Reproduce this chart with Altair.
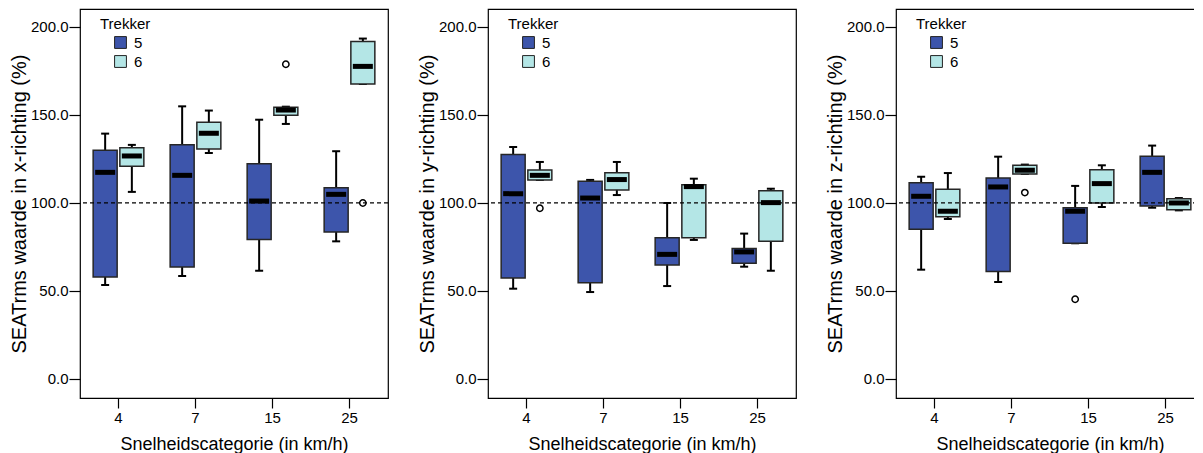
import altair as alt
import pandas as pd

speeds = ["4", "7", "15", "25"]
trekkers = ["5", "6"]
directions = ["x", "y", "z"]

# x-richting
x5_low = [53.4, 58.5, 61.5, 78.2]
x5_q1 = [58.0, 63.6, 79.2, 83.5]
x5_med = [117.4, 115.7, 101.1, 104.9]
x5_q3 = [129.9, 133.1, 122.3, 108.7]
x5_high = [139.4, 154.9, 147.3, 129.4]
x6_low = [106.3, 128.4, 144.9, 167.6]
x6_q1 = [120.8, 130.7, 149.8, 167.6]
x6_med = [126.7, 139.6, 152.8, 177.6]
x6_q3 = [131.4, 145.8, 154.4, 191.8]
x6_high = [133.0, 152.5, 154.7, 193.4]

# y-richting
y5_low = [51.3, 49.4, 52.8, 63.8]
y5_q1 = [57.4, 54.7, 64.8, 65.7]
y5_med = [105.3, 102.8, 70.8, 72.2]
y5_q3 = [127.5, 112.3, 80.3, 74.2]
y5_high = [131.8, 113.1, 100.0, 82.6]
y6_low = [113.1, 104.5, 79.0, 61.5]
y6_q1 = [113.1, 107.4, 80.3, 78.2]
y6_med = [115.7, 113.3, 109.3, 100.2]
y6_q3 = [118.8, 117.2, 110.4, 107.0]
y6_high = [123.3, 123.3, 113.8, 108.1]

# z-richting
z5_low = [62.1, 55.1, 77.1, 97.3]
z5_q1 = [85.0, 61.0, 77.1, 98.3]
z5_med = [103.8, 109.1, 95.3, 117.4]
z5_q3 = [111.5, 114.2, 97.3, 126.5]
z5_high = [114.9, 126.3, 109.7, 132.6]
z6_low = [90.9, 116.5, 97.7, 95.8]
z6_q1 = [92.2, 116.5, 100.0, 96.2]
z6_med = [95.3, 118.6, 111.0, 100.0]
z6_q3 = [107.8, 121.4, 118.9, 102.4]
z6_high = [117.0, 121.8, 121.4, 102.8]

# outliers
out_dir = ["x", "x", "y", "z", "z"]
out_speed = ["15", "25", "4", "7", "15"]
out_trekker = ["6", "6", "6", "6", "5"]
out_value = [178.8, 100.0, 97.0, 105.9, 45.3]

y_ticks = [0, 50, 100, 150, 200]
reference_value = 100

stats = {
    ("x", "5"): (x5_low, x5_q1, x5_med, x5_q3, x5_high),
    ("x", "6"): (x6_low, x6_q1, x6_med, x6_q3, x6_high),
    ("y", "5"): (y5_low, y5_q1, y5_med, y5_q3, y5_high),
    ("y", "6"): (y6_low, y6_q1, y6_med, y6_q3, y6_high),
    ("z", "5"): (z5_low, z5_q1, z5_med, z5_q3, z5_high),
    ("z", "6"): (z6_low, z6_q1, z6_med, z6_q3, z6_high),
}

rows = []
for (d, t), (lo, q1, md, q3, hi) in stats.items():
    for i, s in enumerate(speeds):
        rows.append(dict(direction=d, trekker=t, speed=s, low=lo[i], q1=q1[i],
                         med=md[i], q3=q3[i], high=hi[i]))
box_df = pd.DataFrame(rows)
out_df = pd.DataFrame(dict(direction=out_dir, speed=out_speed,
                           trekker=out_trekker, value=out_value))

BLUE = "#3D55AB"
CYAN = "#B4E6E6"
FONT = "Liberation Sans"


def panel(d):
    bdf = box_df[box_df.direction == d]
    odf = out_df[out_df.direction == d]
    yscale = alt.Scale(domain=[-10.8, 210.2], nice=False, zero=False)
    x = alt.X("speed:N", sort=speeds,
              scale=alt.Scale(domain=speeds, paddingInner=0, paddingOuter=0),
              axis=alt.Axis(title="Snelheidscategorie (in km/h)", labelAngle=0,
                            tickSize=10, tickColor="black", tickWidth=1.2,
                            domain=False, labelFontSize=15, labelPadding=2,
                            titleFontSize=18, titlePadding=10,
                            labelColor="black", titleColor="black",
                            titleFontWeight="normal"))
    xo = alt.XOffset("trekker:N", sort=trekkers,
                     scale=alt.Scale(domain=trekkers, paddingInner=0,
                                     paddingOuter=0.442))
    yaxis = alt.Axis(title=f"SEATrms waarde in {d}-richting (%)",
                     values=y_ticks, format=".1f", tickSize=11,
                     tickColor="black", tickWidth=1.2, domain=False, grid=False,
                     labelFontSize=15, labelPadding=1, labelColor="black",
                     titleFontSize=20, titleColor="black",
                     titleFontWeight="normal", titlePadding=1)
    base = alt.Chart(bdf)
    whisk = base.mark_rule(color="black", strokeWidth=2).encode(
        x=x, xOffset=xo, y=alt.Y("low:Q", scale=yscale, axis=yaxis), y2="high:Q")
    cap_lo = base.mark_tick(color="black", size=8, thickness=2,
                            opacity=1).encode(
        x=x, xOffset=xo, y=alt.Y("low:Q", scale=yscale))
    cap_hi = base.mark_tick(color="black", size=8, thickness=2,
                            opacity=1).encode(
        x=x, xOffset=xo, y=alt.Y("high:Q", scale=yscale))
    box = base.mark_bar(size=24, stroke="#262626", strokeWidth=1.5,
                        opacity=1).encode(
        x=x, xOffset=xo, y=alt.Y("q1:Q", scale=yscale), y2="q3:Q",
        fill=alt.Fill("trekker:N",
                      scale=alt.Scale(domain=trekkers, range=[BLUE, CYAN]),
                      legend=alt.Legend(title="Trekker", orient="none",
                                        legendX=20, legendY=8, padding=0,
                                        titleFontSize=15,
                                        titleFontWeight="normal",
                                        titleColor="black",
                                        labelFontSize=15, labelColor="black",
                                        symbolType="square", symbolSize=140,
                                        symbolStrokeColor="#222",
                                        symbolStrokeWidth=1,
                                        symbolOpacity=1,
                                        symbolOffset=13, rowPadding=2,
                                        titlePadding=3, labelOffset=6)))
    med = base.mark_tick(color="black", size=20, thickness=5,
                         opacity=1).encode(
        x=x, xOffset=xo, y=alt.Y("med:Q", scale=yscale))
    outl = alt.Chart(odf).mark_point(shape="circle", filled=False,
                                     color="black", size=40, opacity=1,
                                     strokeWidth=1.5).encode(
        x=x, xOffset=xo, y=alt.Y("value:Q", scale=yscale))
    ref = alt.Chart(pd.DataFrame({"v": [reference_value]})).mark_rule(
        color="black", strokeDash=[4, 3], strokeWidth=1.2).encode(
        y=alt.Y("v:Q", scale=yscale))
    return alt.layer(whisk, cap_lo, cap_hi, box, med, outl, ref).properties(
        width=308, height=389)


chart = alt.hconcat(*[panel(d) for d in directions], spacing=100,
                    bounds="flush").resolve_scale(fill="independent").properties(
    padding={"left": 0, "top": 0, "right": -12, "bottom": 0}
).configure(font=FONT).configure_view(stroke="black", strokeWidth=1.2)

chart.save("out.html", embed_options={"renderer": "svg", "actions": False})
